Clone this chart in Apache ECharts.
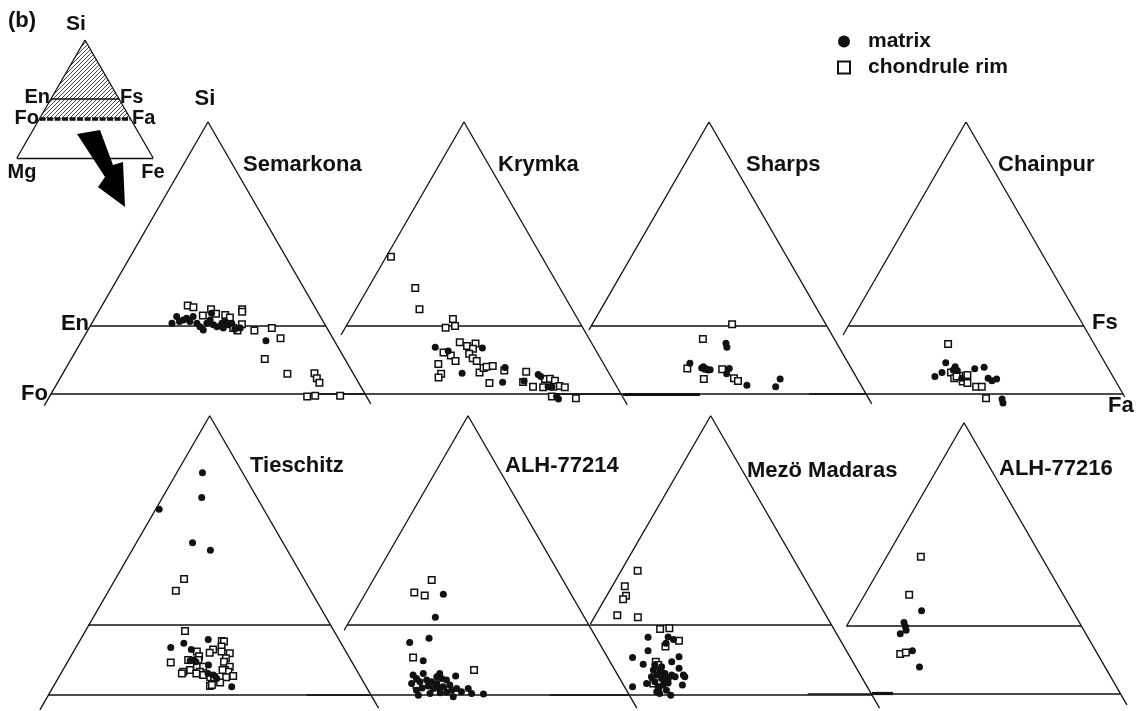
<!DOCTYPE html>
<html>
<head>
<meta charset="utf-8">
<script src="https://cdn.jsdelivr.net/npm/echarts@6/dist/echarts.min.js"></script>
<style>
  html, body { margin: 0; padding: 0; background: #fff; }
  #chart { width: 1142px; height: 711px; }
</style>
</head>
<body>
<div id="chart"></div>
<script>
// Compositions are atomic percent [Si, Fe]; Mg = 100 - Si - Fe.

const panelNames = ['Semarkona', 'Krymka', 'Sharps', 'Chainpur',
                    'Tieschitz', 'ALH-77214', 'Mezö Madaras', 'ALH-77216'];

const semarkonaMatrix = [[50.7,17.0],[52.3,17.2],[51.1,18.4],[51.9,19.5],[51.1,20.6],[52.3,20.7],[50.7,22.3],[49.0,24.5],[50.7,24.4],[51.5,24.7],[50.3,26.0],[50.7,27.6],[49.5,28.5],[50.3,29.2],[50.7,29.7],[49.2,31.1],[49.5,32.1],[49.8,23.4],[46.4,39.1],[53.1,24.2],[51.5,19.0],[49.8,27.0],[51.2,28.0]];
const semarkonaRim = [[55.0,18.2],[54.6,19.6],[54.1,23.6],[53.0,25.2],[52.6,22.6],[52.7,27.3],[52.1,28.6],[54.1,30.2],[53.5,30.5],[50.4,32.0],[49.5,30.6],[48.9,31.8],[48.9,35.4],[49.5,38.8],[47.0,41.9],[41.9,41.1],[38.3,47.7],[38.4,53.4],[37.2,54.5],[36.1,55.6],[32.7,54.7],[32.9,56.3],[32.9,61.6]];

const krymkaMatrix = [[44.8,21.5],[43.9,24.7],[44.6,31.6],[38.4,30.4],[39.8,38.8],[36.2,40.1],[36.5,44.5],[38.1,46.7],[37.6,47.5],[35.1,50.3],[35.1,51.1],[32.1,54.0],[32.7,53.3]];
const krymkaRim = [[67.0,1.0],[59.3,10.0],[54.1,13.5],[51.7,21.8],[50.0,23.1],[49.6,21.3],[46.0,26.1],[45.1,28.1],[45.7,29.6],[44.4,29.7],[43.2,29.5],[42.1,30.8],[41.4,32.0],[43.5,23.9],[42.8,25.8],[41.4,27.5],[40.7,24.2],[38.3,26.0],[37.4,25.9],[38.6,34.0],[39.7,34.3],[40.0,34.8],[40.2,36.0],[39.1,39.0],[36.0,37.4],[38.8,43.8],[36.3,44.4],[35.1,47.1],[37.0,48.7],[37.1,49.7],[36.6,51.0],[35.3,52.6],[35.0,53.9],[35.0,49.3],[35.1,51.4],[32.3,57.6],[32.7,52.3]];

const sharpsMatrix = [[45.8,30.7],[44.8,31.4],[40.9,25.5],[39.7,28.6],[39.4,29.4],[39.2,30.2],[40.0,28.8],[39.6,34.5],[38.3,34.6],[35.5,40.3],[35.1,46.6],[37.0,46.6],[39.5,29.6],[39.3,30.6]];
const sharpsRim = [[50.4,29.7],[46.8,25.3],[39.6,25.6],[37.0,30.4],[39.4,33.1],[37.2,36.7],[36.5,37.9]];

const chainpurMatrix = [[37.6,24.6],[38.6,25.6],[41.0,25.2],[40.0,27.7],[39.1,28.6],[39.2,27.7],[39.5,32.1],[39.9,33.9],[37.2,36.1],[36.6,37.2],[37.0,38.0],[37.2,30.5],[32.1,41.6],[31.1,42.3]];
const chainpurRim = [[45.6,23.4],[38.6,27.5],[37.2,28.9],[37.8,29.7],[36.4,31.1],[38.0,31.3],[36.0,32.3],[35.1,34.6],[35.1,35.8],[32.3,38.1],[37.6,29.2]];

const tieschitzMatrix = [[86.4,5.3],[80.5,8.1],[77.7,0.7],[69.7,11.6],[67.9,16.2],[44.7,19.6],[45.7,21.8],[46.6,26.4],[44.2,24.1],[41.7,25.8],[41.5,25.2],[40.5,29.5],[38.5,30.4],[38.1,31.7],[37.3,32.8],[35.3,36.9],[41.3,26.5]];
const tieschitzRim = [[61.0,14.2],[58.2,13.9],[48.6,20.6],[41.1,21.4],[46.2,29.4],[46.1,29.9],[44.9,30.0],[43.7,30.6],[43.3,32.5],[42.1,32.3],[41.3,32.3],[40.1,34.1],[39.3,33.5],[38.9,34.4],[39.3,33.0],[37.9,35.9],[37.6,34.6],[43.7,25.5],[42.6,26.5],[41.7,26.8],[41.7,24.7],[44.2,28.6],[43.4,28.3],[40.1,27.3],[40.1,28.6],[39.3,26.3],[38.9,25.1],[38.5,25.0],[38.9,28.5],[38.1,29.6],[37.6,31.3],[37.6,32.1],[36.3,34.0],[35.5,32.3],[35.7,32.6],[38.5,28.0]];

const alh77214Matrix = [[57.4,16.2],[51.9,17.3],[45.9,15.0],[46.9,18.5],[41.5,20.0],[37.9,28.5],[38.1,19.6],[37.3,20.7],[36.5,21.8],[36.1,20.3],[38.5,21.5],[36.9,23.0],[36.5,24.2],[36.1,25.5],[38.5,24.9],[37.3,25.9],[35.3,27.2],[34.9,25.4],[35.7,28.4],[34.5,29.4],[34.9,30.2],[34.1,31.6],[34.9,32.6],[33.7,33.9],[33.6,36.4],[33.3,23.1],[33.7,25.3],[33.9,27.3],[32.9,30.5],[34.5,22.1],[36.9,27.1],[37.7,24.7],[35.5,24.0],[34.0,28.6],[35.0,23.0],[35.0,26.3]];
const alh77214Rim = [[60.8,12.1],[57.8,10.0],[57.1,12.5],[42.3,17.5],[39.3,31.6],[35.7,21.5],[34.5,27.6]];

const mezoMatrix = [[47.1,13.5],[47.2,17.6],[46.6,19.0],[45.7,17.9],[43.9,15.1],[42.3,12.7],[40.7,15.7],[42.5,22.2],[41.3,21.3],[39.7,23.6],[35.3,16.2],[36.1,18.7],[35.7,26.3],[33.3,25.1],[39.3,18.5],[38.1,19.8],[39.3,19.9],[37.3,21.2],[38.5,21.3],[36.5,20.2],[35.3,21.5],[34.1,21.8],[35.7,22.3],[37.3,22.6],[38.1,22.9],[37.7,23.8],[38.1,25.3],[37.7,25.8],[34.5,23.6],[33.7,22.6],[37.7,18.9],[40.1,19.8],[40.5,18.2],[36.7,22.0],[35.0,21.8],[38.8,20.5],[36.2,23.1]];
const mezoRim = [[63.0,3.4],[59.3,2.6],[57.0,4.0],[56.2,3.8],[52.4,4.5],[51.9,9.0],[49.1,15.0],[49.3,16.8],[46.3,20.3],[44.9,18.2],[41.3,18.0],[36.1,20.1],[40.5,18.9]];

const alh77216Matrix = [[53.7,14.1],[50.8,11.8],[48.9,13.2],[48.0,12.4],[43.8,17.1],[39.8,20.6],[49.8,12.6]];
const alh77216Rim = [[67.0,7.3],[57.6,9.5],[43.0,14.9],[43.4,15.9]];

const matrixByPanel = [semarkonaMatrix, krymkaMatrix, sharpsMatrix, chainpurMatrix,
                       tieschitzMatrix, alh77214Matrix, mezoMatrix, alh77216Matrix];
const rimByPanel = [semarkonaRim, krymkaRim, sharpsRim, chainpurRim,
                    tieschitzRim, alh77214Rim, mezoRim, alh77216Rim];

// Si levels of the enstatite/ferrosilite and forsterite/fayalite joins
const siPyroxene = 50;
const siOlivine = 100 / 3;

// ---- layout: apex position and full Si–(Mg,Fe) height of every triangle (chart units) ----
const layout = [
  { ax: 208,   ay: 122,   h: 408, leftEnd: 30.5, rightEnd: 30.9, tx: 243,  ty: 165 },
  { ax: 464,   ay: 122,   h: 408, leftEnd: 47.8, rightEnd: 30.7, tx: 498,  ty: 165 },
  { ax: 709,   ay: 122,   h: 408, leftEnd: 49.0, rightEnd: 30.9, tx: 746,  ty: 165 },
  { ax: 966,   ay: 122,   h: 408, leftEnd: 47.8, rightEnd: 32.6, tx: 998,  ty: 165 },
  { ax: 209.7, ay: 415.7, h: 419, leftEnd: 29.8, rightEnd: 30.2, tx: 250,  ty: 466 },
  { ax: 468,   ay: 415.7, h: 419, leftEnd: 48.8, rightEnd: 30.2, tx: 505,  ty: 466 },
  { ax: 710.7, ay: 415.7, h: 419, leftEnd: 50.3, rightEnd: 30.2, tx: 747,  ty: 471 },
  { ax: 964,   ay: 422.7, h: 406, leftEnd: 49.8, rightEnd: 30.5, tx: 999,  ty: 469 }
];
const insetLayout = { ax: 85, ay: 40, h: 118 };

// ternary [Si, Fe] (atomic %) -> chart coordinates inside a triangle
function toXY(p, si, fe) {
  const s = si / 100, f = fe / 100, m = 1 - s - f;
  return [p.ax + (f - m) * p.h / Math.sqrt(3), p.ay + (1 - s) * p.h];
}

// ---- frame segments ----
const frame = [], joins = [];
layout.forEach(p => {
  const apex = toXY(p, 100, 0);
  frame.push({ coords: [apex, toXY(p, p.leftEnd, 0)] });
  frame.push({ coords: [apex, toXY(p, p.rightEnd, 100 - p.rightEnd)] });
  joins.push({ coords: [toXY(p, siPyroxene, 0), toXY(p, siPyroxene, 100 - siPyroxene)] });
  joins.push({ coords: [toXY(p, siOlivine, 0), toXY(p, siOlivine, 100 - siOlivine)] });
});
// darker stretches along the olivine line
const heavy = [
  { coords: [toXY(layout[2], siOlivine, 15.1), toXY(layout[2], siOlivine, 31.4)] },
  { coords: [toXY(layout[7], siOlivine, 13.7), toXY(layout[7], siOlivine, 18.2)] }
];

// inset triangle Si–Mg–Fe
const ip = insetLayout;
const insetFrame = [
  { coords: [toXY(ip, 100, 0), toXY(ip, 0, 0)] },
  { coords: [toXY(ip, 100, 0), toXY(ip, 0, 100)] },
  { coords: [toXY(ip, 0, 0), toXY(ip, 0, 100)] }
];
const insetPyroxene = [{ coords: [toXY(ip, siPyroxene, 0), toXY(ip, siPyroxene, 100 - siPyroxene)] }];
const insetOlivine = [{ coords: [toXY(ip, siOlivine, 0), toXY(ip, siOlivine, 100 - siOlivine)] }];
const hatchPoly = [toXY(ip, 100, 0), toXY(ip, siOlivine, 0), toXY(ip, siOlivine, 100 - siOlivine)];

// ---- scatter data ----
const matrixPts = [], rimPts = [];
layout.forEach((p, i) => {
  rimByPanel[i].forEach(d => rimPts.push(toXY(p, d[0], d[1])));
  matrixByPanel[i].forEach(d => matrixPts.push(toXY(p, d[0], d[1])));
});

// hatch pattern
const hatch = document.createElement('canvas');
hatch.width = 4; hatch.height = 4;
const hc = hatch.getContext('2d');
hc.strokeStyle = '#333'; hc.lineWidth = 0.9;
hc.beginPath(); hc.moveTo(-1, 5); hc.lineTo(5, -1); hc.stroke();
hc.beginPath(); hc.moveTo(-1, 1); hc.lineTo(1, -1); hc.stroke();
hc.beginPath(); hc.moveTo(3, 5); hc.lineTo(5, 3); hc.stroke();

const FONT = 'Liberation Sans, Arial, sans-serif';
function label(text, x, y, size, align) {
  return { type: 'text', x: x, y: y, z: 10,
    style: { text: text, fontFamily: FONT, fontWeight: 'bold', fontSize: size,
             fill: '#111', align: align || 'left', verticalAlign: 'middle' } };
}

const graphics = [];
panelNames.forEach((n, i) => graphics.push(label(n, layout[i].tx, layout[i].ty, 22)));
graphics.push(label('Si', 205, 99, 22, 'center'));
graphics.push(label('En', 89, 324, 22, 'right'));
graphics.push(label('Fo', 48, 394, 22, 'right'));
graphics.push(label('Fs', 1092, 323, 22, 'left'));
graphics.push(label('Fa', 1108, 406, 22, 'left'));
// inset labels
graphics.push(label('(b)', 8, 21, 22, 'left'));
graphics.push(label('Si', 76, 24, 21, 'center'));
graphics.push(label('En', 50, 97, 20, 'right'));
graphics.push(label('Fs', 120, 97, 20, 'left'));
graphics.push(label('Fo', 39, 118, 20, 'right'));
graphics.push(label('Fa', 132, 118, 20, 'left'));
graphics.push(label('Mg', 22, 172, 20, 'center'));
graphics.push(label('Fe', 153, 172, 20, 'center'));
// arrow from the inset to the panels
graphics.push({ type: 'polygon', z: 10,
  shape: { points: [[77,134],[100,130],[113,165],[123,162],[125,207],[98,187],[105,177]] },
  style: { fill: '#000' } });

const chart = echarts.init(document.getElementById('chart'), null, { renderer: 'canvas' });
chart.setOption({
  backgroundColor: '#fff',
  animation: false,
  grid: { left: 0, right: 0, top: 0, bottom: 0 },
  xAxis: { type: 'value', min: 0, max: 1142, show: false },
  yAxis: { type: 'value', min: 0, max: 711, inverse: true, show: false },
  legend: {
    orient: 'vertical', left: 837, top: 31, padding: 0,
    itemWidth: 38, itemHeight: 12, itemGap: 5, symbolKeepAspect: true,
    selectedMode: false,
    data: [{ name: 'matrix', icon: 'circle' },
           { name: 'chondrule rim', icon: 'path://M0,0h10v10h-10z' }],
    textStyle: { fontFamily: FONT, fontWeight: 'bold', fontSize: 21, color: '#111' }
  },
  graphic: graphics,
  series: [
    { type: 'custom', coordinateSystem: 'cartesian2d', data: [0], silent: true, z: 1,
      renderItem: (params, api) => ({
        type: 'polygon',
        shape: { points: hatchPoly.map(c => api.coord(c)) },
        style: { fill: { image: hatch, repeat: 'repeat' }, stroke: null }
      }) },
    { type: 'lines', coordinateSystem: 'cartesian2d', silent: true, z: 2,
      lineStyle: { color: '#111', width: 1.3, opacity: 1 }, data: frame.concat(insetFrame) },
    { type: 'lines', coordinateSystem: 'cartesian2d', silent: true, z: 2,
      lineStyle: { color: '#111', width: 1.7, opacity: 1 }, data: joins.concat(insetPyroxene) },
    { type: 'lines', coordinateSystem: 'cartesian2d', silent: true, z: 2,
      lineStyle: { color: '#111', width: 3.2, opacity: 1 }, data: heavy },
    { type: 'lines', coordinateSystem: 'cartesian2d', silent: true, z: 2,
      lineStyle: { color: '#111', width: 3.5, opacity: 1, type: [6, 1.5] }, data: insetOlivine },
    { name: 'chondrule rim', type: 'scatter', symbol: 'rect', symbolSize: 6.5, z: 3,
      itemStyle: { color: '#fff', borderColor: '#111', borderWidth: 1.5, opacity: 1 },
      data: rimPts },
    { name: 'matrix', type: 'scatter', symbol: 'circle', symbolSize: 7, z: 4,
      itemStyle: { color: '#111', opacity: 1 },
      data: matrixPts }
  ]
});
</script>
</body>
</html>
